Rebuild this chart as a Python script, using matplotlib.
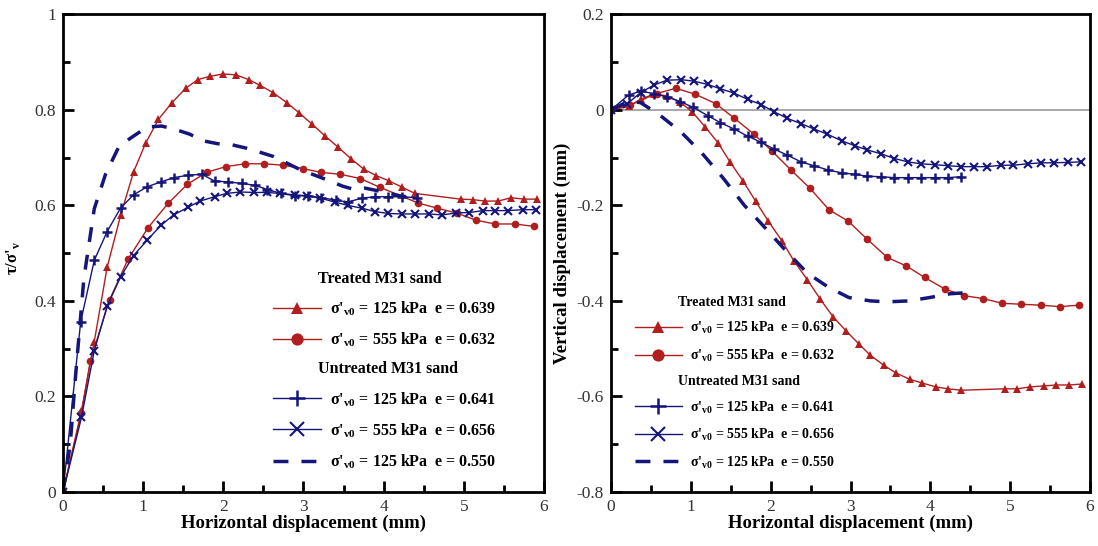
import numpy as np
import matplotlib.pyplot as plt
from matplotlib.lines import Line2D
from matplotlib.ticker import MultipleLocator, FuncFormatter

plt.rcParams['font.family'] = ['Liberation Serif', 'DejaVu Serif']
plt.rcParams['axes.unicode_minus'] = False

RED = '#b01e1e'
BLUE = '#16167a'

# ---- shear stress ratio vs horizontal displacement ----
t125_x = [0, 0.23, 0.39, 0.55, 0.72, 0.88, 1.03, 1.19, 1.36, 1.53, 1.68, 1.83, 2.0, 2.16, 2.32,
          2.46, 2.62, 2.79, 2.95, 3.1, 3.27, 3.43, 3.59, 3.75, 3.91, 4.07, 4.23, 4.39, 4.96,
          5.11, 5.26, 5.43, 5.59, 5.75, 5.91]
t125_y = [0, 0.17, 0.315, 0.47, 0.58, 0.67, 0.73, 0.78, 0.815, 0.845, 0.863, 0.87, 0.875,
          0.873, 0.863, 0.851, 0.836, 0.815, 0.793, 0.771, 0.745, 0.722, 0.698, 0.676, 0.662,
          0.651, 0.638, 0.625, 0.613, 0.612, 0.609, 0.609, 0.616, 0.613, 0.613]

t555_x = [0, 0.23, 0.34, 0.58, 0.81, 1.06, 1.31, 1.55, 1.79, 2.03, 2.27, 2.51, 2.75, 2.99,
          3.22, 3.46, 3.71, 3.95, 4.43, 4.67, 4.91, 5.15, 5.39, 5.64, 5.87]
t555_y = [0, 0.165, 0.274, 0.402, 0.487, 0.553, 0.604, 0.644, 0.669, 0.681, 0.687, 0.687,
          0.684, 0.677, 0.669, 0.665, 0.656, 0.638, 0.605, 0.594, 0.584, 0.569, 0.561, 0.561,
          0.556]

u125_x = [0, 0.22, 0.39, 0.55, 0.72, 0.88, 1.05, 1.22, 1.38, 1.56, 1.73, 1.89, 2.06, 2.23,
          2.39, 2.55, 2.72, 2.89, 3.06, 3.22, 3.4, 3.55, 3.73, 3.89, 4.06, 4.23, 4.41]
u125_y = [0, 0.356, 0.485, 0.545, 0.595, 0.622, 0.639, 0.649, 0.658, 0.663, 0.665, 0.651,
          0.649, 0.646, 0.642, 0.633, 0.625, 0.62, 0.62, 0.616, 0.611, 0.607, 0.615, 0.618,
          0.618, 0.618, 0.616]

u555_x = [0, 0.23, 0.39, 0.55, 0.72, 0.88, 1.05, 1.22, 1.38, 1.56, 1.71, 1.89, 2.04, 2.21,
          2.38, 2.54, 2.71, 2.89, 3.05, 3.21, 3.39, 3.55, 3.73, 3.89, 4.06, 4.23, 4.39, 4.56,
          4.73, 4.9, 5.07, 5.24, 5.39, 5.55, 5.74, 5.9]
u555_y = [0, 0.156, 0.296, 0.389, 0.451, 0.495, 0.527, 0.558, 0.58, 0.596, 0.609, 0.618,
          0.625, 0.628, 0.627, 0.627, 0.625, 0.622, 0.62, 0.615, 0.607, 0.6, 0.594, 0.587,
          0.583, 0.582, 0.582, 0.582, 0.58, 0.584, 0.585, 0.589, 0.589, 0.589, 0.591, 0.591]

ud_x = [0, 0.09, 0.15, 0.26, 0.39, 0.53, 0.7, 0.88, 1.05, 1.23, 1.4, 1.58, 1.75, 1.93, 2.1,
        2.28, 2.46, 2.63, 2.81, 2.98, 3.16, 3.33, 3.49, 3.64, 3.77, 4.0, 4.2, 4.4]
ud_y = [0, 0.1, 0.23, 0.447, 0.593, 0.665, 0.724, 0.745, 0.764, 0.766, 0.759, 0.749, 0.735,
        0.729, 0.727, 0.72, 0.711, 0.702, 0.687, 0.673, 0.662, 0.651, 0.64, 0.633, 0.636,
        0.628, 0.62, 0.615]

# ---- vertical displacement vs horizontal displacement ----
vt125_x = [0, 0.22, 0.37, 0.54, 0.70, 0.86, 1.02, 1.18, 1.34, 1.49, 1.65, 1.81, 1.97, 2.14,
           2.29, 2.46, 2.62, 2.78, 2.94, 3.11, 3.25, 3.42, 3.57, 3.74, 3.9, 4.07, 4.22, 4.39,
           4.93, 5.09, 5.25, 5.42, 5.58, 5.74, 5.9]
vt125_y = [0, 0.007, 0.022, 0.033, 0.029, 0.017, -0.005, -0.036, -0.069, -0.109, -0.148,
           -0.191, -0.233, -0.274, -0.316, -0.356, -0.396, -0.433, -0.462, -0.491, -0.514,
           -0.535, -0.551, -0.564, -0.572, -0.58, -0.584, -0.587, -0.584, -0.584, -0.58,
           -0.578, -0.576, -0.576, -0.574]

vt555_x = [0, 0.24, 0.57, 0.81, 1.05, 1.31, 1.54, 1.79, 2.02, 2.26, 2.49, 2.73, 2.97, 3.21,
           3.46, 3.7, 3.93, 4.18, 4.42, 4.66, 4.9, 5.14, 5.39, 5.62, 5.86]
vt555_y = [0, 0.01, 0.034, 0.045, 0.033, 0.013, -0.017, -0.051, -0.087, -0.127, -0.164,
           -0.209, -0.233, -0.271, -0.309, -0.327, -0.351, -0.375, -0.389, -0.395, -0.405,
           -0.407, -0.409, -0.412, -0.409]

vu125_x = [0, 0.22, 0.37, 0.54, 0.7, 0.87, 1.03, 1.21, 1.37, 1.54, 1.71, 1.88, 2.04, 2.21,
           2.38, 2.54, 2.72, 2.89, 3.05, 3.21, 3.38, 3.54, 3.72, 3.88, 4.06, 4.22, 4.39]
vu125_y = [0, 0.031, 0.039, 0.034, 0.027, 0.017, 0.005, -0.012, -0.027, -0.04, -0.055,
           -0.068, -0.082, -0.095, -0.109, -0.117, -0.126, -0.132, -0.135, -0.139, -0.14,
           -0.142, -0.142, -0.142, -0.142, -0.142, -0.14]

vu555_x = [0, 0.2, 0.37, 0.54, 0.7, 0.88, 1.04, 1.21, 1.37, 1.54, 1.71, 1.88, 2.04, 2.21,
           2.38, 2.54, 2.71, 2.89, 3.05, 3.21, 3.38, 3.55, 3.72, 3.88, 4.06, 4.22, 4.39, 4.55,
           4.71, 4.89, 5.04, 5.22, 5.39, 5.55, 5.72, 5.89]
vu555_y = [0, 0.012, 0.036, 0.052, 0.062, 0.063, 0.06, 0.053, 0.044, 0.035, 0.022, 0.011,
           -0.004, -0.018, -0.029, -0.04, -0.051, -0.065, -0.075, -0.084, -0.092, -0.102,
           -0.109, -0.113, -0.115, -0.117, -0.119, -0.119, -0.119, -0.116, -0.116, -0.113,
           -0.111, -0.111, -0.11, -0.109]

vud_x = [0, 0.22, 0.37, 0.61, 0.88, 1.14, 1.4, 1.67, 1.93, 2.19, 2.46, 2.72, 2.98, 3.25,
         3.46, 3.73, 3.99, 4.25, 4.43]
vud_y = [0, 0.018, 0.015, -0.011, -0.047, -0.091, -0.142, -0.2, -0.247, -0.295, -0.342,
         -0.371, -0.393, -0.4, -0.402, -0.4, -0.393, -0.385, -0.383]

labels = ["σ'$_\\mathregular{v0}$ = 125 kPa  e = 0.639",
          "σ'$_\\mathregular{v0}$ = 555 kPa  e = 0.632",
          "σ'$_\\mathregular{v0}$ = 125 kPa  e = 0.641",
          "σ'$_\\mathregular{v0}$ = 555 kPa  e = 0.656",
          "σ'$_\\mathregular{v0}$ = 125 kPa  e = 0.550"]

styles = [dict(color=RED, lw=1, marker='^', ms=5.5, mew=0),
          dict(color=RED, lw=1, marker='o', ms=5.5, mew=0),
          dict(color=BLUE, lw=1, marker='+', ms=7, mew=1.8),
          dict(color=BLUE, lw=1, marker='x', ms=6, mew=1.5),
          dict(color=BLUE, lw=2.5, ls=(0, (4.3, 3.75)))]

fig = plt.figure(figsize=(10.98, 5.46), dpi=100)
ax1 = fig.add_axes([0.0574, 0.0989, 0.438, 0.875])
ax2 = fig.add_axes([0.5565, 0.0989, 0.4362, 0.875])

left_data = [(t125_x, t125_y), (t555_x, t555_y), (u125_x, u125_y), (u555_x, u555_y), (ud_x, ud_y)]
right_data = [(vt125_x, vt125_y), (vt555_x, vt555_y), (vu125_x, vu125_y), (vu555_x, vu555_y),
              (vud_x, vud_y)]

for (x, y), st in zip(left_data, styles):
    ax1.plot(x, y, **st)
ax2.axhline(0, color='#9a9a9a', lw=1.2, zorder=0)
for (x, y), st in zip(right_data, styles):
    ax2.plot(x, y, **st)

fmt = FuncFormatter(lambda v, p: '%g' % round(v, 2))
for ax in (ax1, ax2):
    ax.set_xlim(0, 6)
    ax.xaxis.set_major_locator(MultipleLocator(1))
    ax.xaxis.set_minor_locator(MultipleLocator(0.5))
    ax.yaxis.set_major_locator(MultipleLocator(0.2))
    ax.yaxis.set_minor_locator(MultipleLocator(0.1))
    ax.yaxis.set_major_formatter(fmt)
    ax.xaxis.set_major_formatter(fmt)
    ax.tick_params(which='major', direction='in', length=8, width=2, labelsize=12.5, pad=5,
                   colors='black', labelcolor='#333333')
    ax.tick_params(which='minor', direction='in', length=5, width=2)
    for s in ax.spines.values():
        s.set_linewidth(2)
    ax.set_xlabel('Horizontal displacement (mm)', fontsize=13.5, fontweight='bold', labelpad=0)

ax1.set_ylim(0, 1)
ax2.set_ylim(-0.8, 0.2)
ax1.set_ylabel("τ/σ'$_\\mathregular{v}$", fontsize=12, fontweight='bold')
ax1.yaxis.set_label_coords(-0.085, 0.49)
ax2.set_ylabel('Vertical displacement (mm)', fontsize=13.5, fontweight='bold', labelpad=4)


def make_legend(ax, anchor, fs, hlen, spacing):
    blank = Line2D([], [], lw=0, marker=None)
    handles = [blank]
    handles += [Line2D([], [], **styles[0]), Line2D([], [], **styles[1]), blank]
    handles += [Line2D([], [], **s) for s in styles[2:]]
    texts = ['Treated M31 sand', labels[0], labels[1], 'Untreated M31 sand'] + labels[2:]
    leg = ax.legend(handles, texts, loc='upper left', bbox_to_anchor=anchor, frameon=False,
                    prop={'size': fs, 'weight': 'bold'}, markerscale=1.6, handlelength=hlen,
                    handletextpad=0.6, labelspacing=spacing, borderpad=0)
    for i in (0, 3):
        leg.get_texts()[i].set_position((-12, 0))
    return leg


make_legend(ax1, (0.42, 0.48), 11.5, 3.0, 0.78)
make_legend(ax2, (0.035, 0.425), 10, 3.4, 0.8)

fig.savefig('out.png', dpi=100)
